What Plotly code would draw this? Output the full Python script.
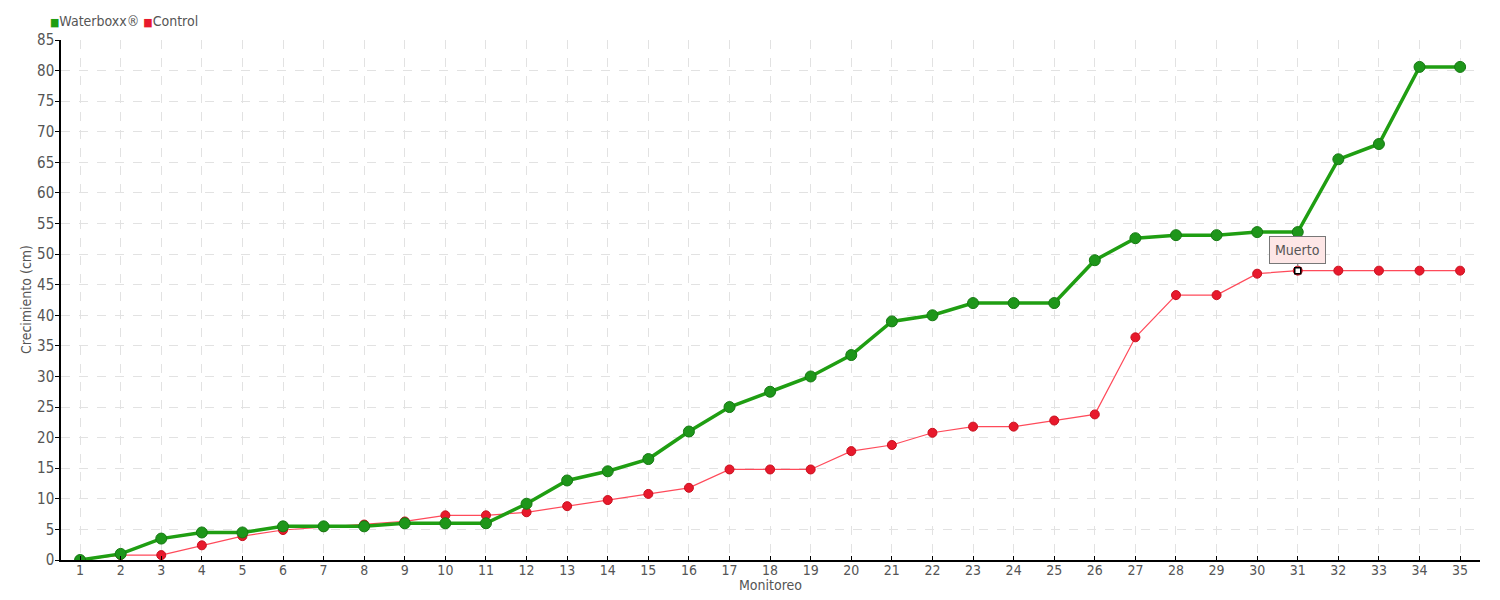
import plotly.graph_objects as go

monitoreo = list(range(1, 36))
waterboxx = [0, 1, 3.5, 4.5, 4.5, 5.5, 5.5, 5.5, 6, 6, 6, 9.2, 13, 14.5, 16.5, 21, 25, 27.5, 30, 33.5,
             39, 40, 42, 42, 42, 49, 52.6, 53.1, 53.1, 53.6, 53.6, 65.5, 68, 80.6, 80.6]
control = [0, 0.8, 0.8, 2.4, 3.9, 4.9, 5.4, 5.8, 6.3, 7.3, 7.3, 7.8, 8.8, 9.8, 10.8, 11.8, 14.8, 14.8, 14.8, 17.8,
           18.8, 20.8, 21.8, 21.8, 22.8, 23.8, 36.4, 43.3, 43.3, 46.8, 47.3, 47.3, 47.3, 47.3, 47.3]
y_ticks = list(range(0, 90, 5))
dead_index = 31
dead_label = "Muerto"
series_names = ["Waterboxx®", "Control"]
x_title = "Monitoreo"
y_title = "Crecimiento (cm)"

FONT = "DejaVu Sans Condensed"
FS = 15
TXT = "#555555"
GREEN = "#1f9e12"
RED = "#e8192c"

# page body has an 8px margin
W, H = 1484, 584
L, T, R, B = 53, 32, 12, 32
PW, PH = W - L - R, H - T - B

fig = go.Figure()

fig.add_trace(go.Scatter(
    x=monitoreo, y=control, mode="lines+markers", name=series_names[1], showlegend=False,
    line=dict(color="#ff4a5a", width=1.2),
    marker=dict(color=RED, size=9, line=dict(color="#c8101e", width=1)),
))
fig.add_trace(go.Scatter(
    x=monitoreo, y=waterboxx, mode="lines+markers", name=series_names[0], showlegend=False,
    line=dict(color=GREEN, width=3.5),
    marker=dict(color="#1e961a", size=11, line=dict(color="#157a12", width=1)),
))
fig.add_trace(go.Scatter(
    x=[monitoreo[dead_index - 1]], y=[control[dead_index - 1]], mode="markers", showlegend=False,
    marker=dict(symbol="square", color="white", size=6, line=dict(color="black", width=1.5)),
    hoverinfo="skip",
))

# compact legend as text
legend_text = (f'<span style="color:{GREEN};font-size:11px">■</span>{series_names[0]} '
               f'<span style="color:{RED};font-size:11px">■</span>{series_names[1]}')
fig.add_annotation(
    xref="paper", yref="paper", x=-13 / PW, y=1 + 19 / PH, xanchor="left", yanchor="middle",
    text=legend_text, showarrow=False, font=dict(family=FONT, size=FS - 1, color=TXT),
)
# axis titles
fig.add_annotation(
    xref="paper", yref="paper", x=-35 / PW, y=0.5, xanchor="center", yanchor="middle", textangle=-90,
    text=y_title, showarrow=False, font=dict(family=FONT, size=FS - 1, color=TXT),
)
fig.add_annotation(
    xref="paper", yref="paper", x=0.5, y=-25 / PH, xanchor="center", yanchor="middle",
    text=x_title, showarrow=False, font=dict(family=FONT, size=FS - 1, color=TXT),
)

fig.add_annotation(
    x=monitoreo[dead_index - 1], y=control[dead_index - 1], text=dead_label,
    showarrow=True, arrowhead=0, arrowcolor="#777777", arrowwidth=1, ax=0, ay=-21, standoff=4,
    bgcolor="#fde6e6", bordercolor="#777777", borderwidth=1, borderpad=5,
    font=dict(family=FONT, size=FS - 1, color=TXT),
)

fig.update_layout(
    width=W, height=H,
    margin=dict(l=L, r=R, t=T, b=B, autoexpand=False),
    paper_bgcolor="white", plot_bgcolor="white",
    font=dict(family=FONT, size=FS, color=TXT),
    showlegend=False,
)
fig.update_xaxes(
    range=[0.53, 35.49], tickmode="array", tickvals=monitoreo, ticktext=[str(m) for m in monitoreo],
    showline=True, linecolor="black", linewidth=1.5, ticks="inside", ticklen=4, tickcolor="black",
    showgrid=True, gridcolor="#e2e2e2", griddash="dash", gridwidth=1, zeroline=False,
    tickfont=dict(size=FS - 1, color=TXT), ticklabelstandoff=-4,
)
fig.update_yaxes(
    range=[0, 85], tickmode="array", tickvals=y_ticks,
    showline=True, linecolor="black", linewidth=1.5, ticks="outside", ticklen=4, tickcolor="black",
    showgrid=True, gridcolor="#e2e2e2", griddash="dash", gridwidth=1, zeroline=False,
    tickfont=dict(size=FS, color=TXT), ticklabelstandoff=-2,
)

fig.write_html("out.html")
